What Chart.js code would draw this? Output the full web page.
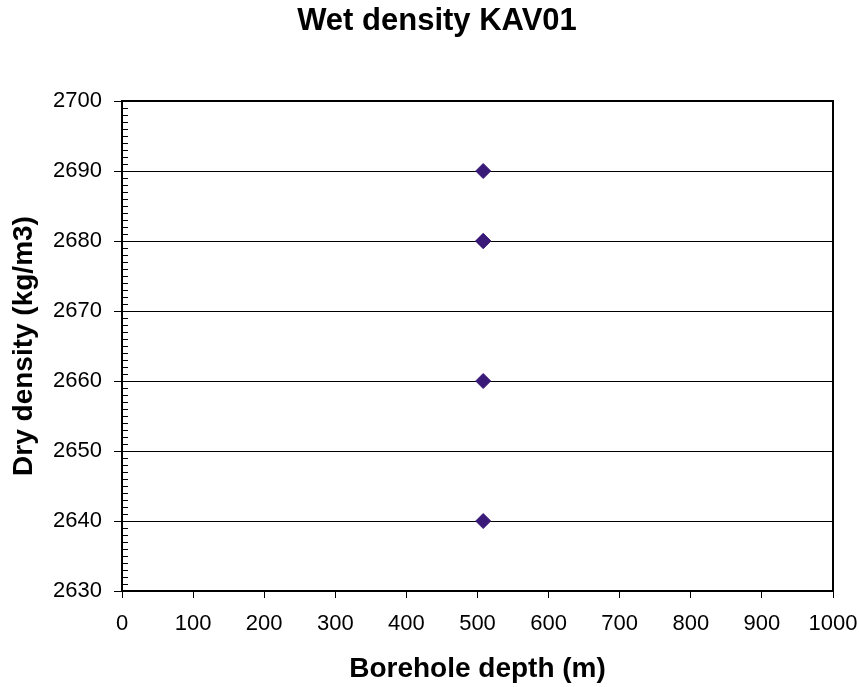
<!DOCTYPE html>
<html>
<head>
<meta charset="utf-8">
<script src="https://cdn.jsdelivr.net/npm/chart.js@4/dist/chart.umd.min.js"></script>
<style>
html,body{margin:0;padding:0;background:#fff;}
#wrap{width:859px;height:687px;}
</style>
</head>
<body>
<div id="wrap"><canvas id="c" width="859" height="687"></canvas></div>
<script>
const depths = [508, 508, 508, 508, 508];
const densities = [2690, 2680, 2680, 2660, 2640];
const yTicks = [2630, 2640, 2650, 2660, 2670, 2680, 2690, 2700];
const xTicks = [0, 100, 200, 300, 400, 500, 600, 700, 800, 900, 1000];
const chartTitle = 'Wet density KAV01';
const xTitle = 'Borehole depth (m)';
const yTitle = 'Dry density (kg/m3)';

const FONT = "'Liberation Sans', Arial, sans-serif";

const framePlugin = {
  id: 'frame',
  afterDatasetsDraw(chart) {
    const {ctx, chartArea: a, scales: {y}} = chart;
    ctx.save();
    ctx.strokeStyle = '#000';
    ctx.lineWidth = 1;
    for (let v = y.min; v <= y.max; v += 1) {
      if (v % 10 === 0) continue;
      const py = Math.round(y.getPixelForValue(v)) + 0.5;
      ctx.beginPath();
      ctx.moveTo(a.left, py);
      ctx.lineTo(a.left + 6, py);
      ctx.stroke();
    }
    ctx.lineWidth = 2;
    ctx.strokeRect(a.left, a.top, a.right - a.left, a.bottom - a.top);
    ctx.restore();
  },
  afterDraw(chart) {
    const {ctx, chartArea: a} = chart;
    ctx.save();
    ctx.fillStyle = '#000';
    ctx.textBaseline = 'alphabetic';
    ctx.textAlign = 'center';
    ctx.font = 'bold 31px ' + FONT;
    ctx.fillText(chartTitle, 437, 30);
    ctx.font = 'bold 28px ' + FONT;
    ctx.fillText(xTitle, (a.left + a.right) / 2, 677);
    ctx.translate(32, (a.top + a.bottom) / 2);
    ctx.rotate(-Math.PI / 2);
    ctx.fillText(yTitle, 0, 0);
    ctx.restore();
  }
};

new Chart(document.getElementById('c'), {
  type: 'scatter',
  data: {
    datasets: [{
      data: depths.map((d, i) => ({x: d, y: densities[i]})),
      pointStyle: 'rectRot',
      pointRadius: 7.5,
      backgroundColor: '#3A1A78',
      borderColor: '#3A1A78',
      borderWidth: 1
    }]
  },
  options: {
    responsive: false,
    animation: false,
    layout: {padding: {left: 0, right: 26, top: 101, bottom: 0}},
    plugins: {
      legend: {display: false},
      tooltip: {enabled: false},
      title: {display: false}
    },
    scales: {
      x: {
        type: 'linear',
        min: 0, max: 1000,
        afterBuildTicks(s) { s.ticks = xTicks.map(v => ({value: v})); },
        afterFit(s) { s.height = 96; s.paddingLeft = 0; s.paddingRight = 0; },
        ticks: {color: '#000', font: {family: FONT, size: 22}, padding: 13, maxRotation: 0,
                callback: v => String(v)},
        grid: {display: true, drawOnChartArea: false, drawTicks: true, tickLength: 7, color: '#000', lineWidth: 1},
        border: {display: true, color: '#000', width: 2}
      },
      y: {
        type: 'linear',
        min: 2630, max: 2700,
        afterBuildTicks(s) { s.ticks = yTicks.map(v => ({value: v})); },
        afterFit(s) { s.width = 122; s.paddingTop = 0; s.paddingBottom = 0; },
        ticks: {color: '#000', font: {family: FONT, size: 22}, padding: 12,
                callback: v => String(v)},
        grid: {display: true, drawOnChartArea: true, drawTicks: true, tickLength: 8, color: '#000', lineWidth: 1},
        border: {display: true, color: '#000', width: 2}
      }
    }
  },
  plugins: [framePlugin]
});
</script>
</body>
</html>
